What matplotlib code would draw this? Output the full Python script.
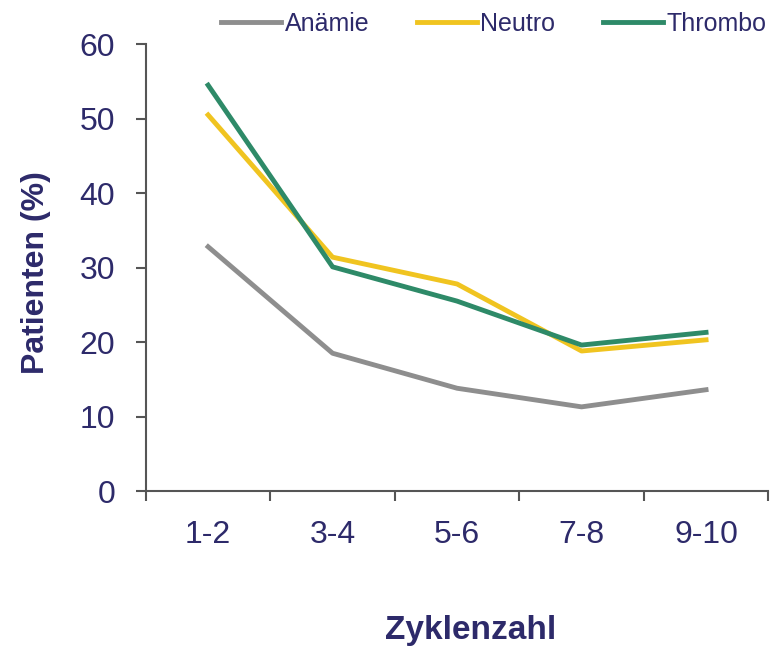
import matplotlib
matplotlib.use("Agg")
import matplotlib.pyplot as plt

categories = ["1-2", "3-4", "5-6", "7-8", "9-10"]
anaemie = [32.8, 18.5, 13.8, 11.3, 13.6]
neutro = [50.5, 31.4, 27.8, 18.8, 20.3]
thrombo = [54.5, 30.1, 25.5, 19.6, 21.3]
series_names = ["Anämie", "Neutro", "Thrombo"]

plt.rcParams['font.family'] = ['Liberation Sans', 'DejaVu Sans']
navy = "#2d2a6a"
axis_col = "#555555"

fig = plt.figure(figsize=(7.8, 6.5), dpi=100)
ax = fig.add_axes([0.187, 0.2446, 0.798, 0.6874])

x = list(range(len(categories)))
ax.plot(x, anaemie, color="#8e8e8e", lw=3.5, label=series_names[0])
ax.plot(x, neutro, color="#f0c420", lw=3.5, label=series_names[1])
ax.plot(x, thrombo, color="#2e8a68", lw=3.5, label=series_names[2])

ax.set_xlim(-0.5, len(categories) - 0.5)
ax.set_ylim(0, 60)
ax.set_yticks(range(0, 61, 10))
ax.set_xticks(x)
ax.set_xticklabels(categories)
ax.set_xticks([i - 0.5 for i in range(len(categories) + 1)], minor=True)
ax.tick_params(axis='x', which='major', length=0, pad=21, labelsize=23, labelcolor=navy)
ax.tick_params(axis='x', which='minor', length=7, width=1.5, color=axis_col, direction='out')
ax.tick_params(axis='y', length=7, width=1.5, color=axis_col, labelsize=23, labelcolor=navy, pad=15)

for s in ['top', 'right']:
    ax.spines[s].set_visible(False)
for s in ['left', 'bottom']:
    ax.spines[s].set_color(axis_col)
    ax.spines[s].set_linewidth(1.5)

ax.set_ylabel("Patienten (%)", fontsize=23, fontweight='bold', color=navy)
ax.yaxis.set_label_coords(-0.153, 0.49)
fig.text(0.604, 1 - 630 / 650, "Zyklenzahl", fontsize=24, fontweight='bold', color=navy,
         ha='center', va='center')

fig.legend(loc='center', bbox_to_anchor=(0.633, 1 - 24 / 650), ncol=3, frameon=False,
           fontsize=18, labelcolor=navy, handlelength=2.4, handletextpad=0.15,
           columnspacing=1.9, borderpad=0, borderaxespad=0)

fig.savefig("out.png", dpi=100)
